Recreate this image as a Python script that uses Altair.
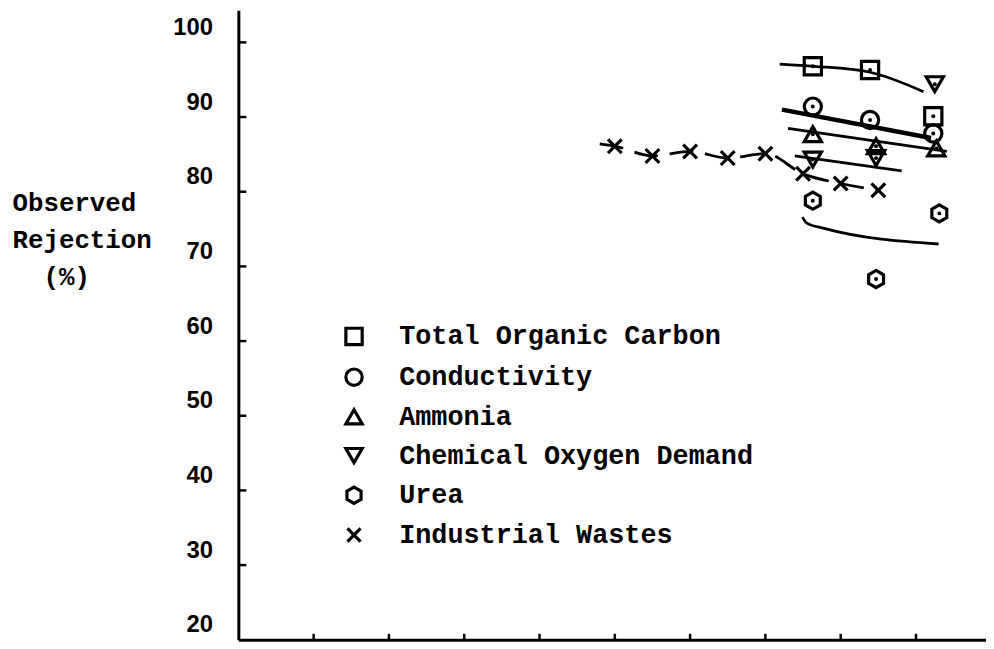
import altair as alt
import pandas as pd

# ---- data ----
series = ["Total Organic Carbon", "Conductivity", "Ammonia",
          "Chemical Oxygen Demand", "Urea", "Industrial Wastes"]

toc_x = [7.63, 8.39, 9.23]
toc_y = [96.8, 96.3, 90.1]
cond_x = [7.63, 8.39, 9.23]
cond_y = [91.4, 89.6, 87.8]
amm_x = [7.63, 8.47, 9.27]
amm_y = [87.7, 86.1, 85.8]
cod_x = [7.63, 8.47, 9.25]
cod_y = [84.3, 84.5, 94.4]
urea_x = [7.63, 9.31, 8.47]
urea_y = [78.8, 77.1, 68.3]
ind_x = [5.0, 5.5, 6.0, 6.5, 7.0, 7.5, 8.0, 8.5]
ind_y = [86.1, 84.8, 85.4, 84.5, 85.1, 82.4, 81.1, 80.2]

# fitted curves
toc_cx = [7.19, 7.65, 8.39, 9.10]
toc_cy = [97.1, 96.8, 96.0, 93.4]
cond_cx = [7.22, 9.20]
cond_cy = [91.0, 87.2]
amm_cx = [7.30, 9.41]
amm_cy = [88.5, 85.4]
cod_cx = [7.39, 8.81]
cod_cy = [84.8, 82.8]
urea_cx = [7.49, 7.55, 7.78, 9.30]
urea_cy = [76.6, 75.8, 75.1, 73.0]
ind_cx = [4.8] + ind_x
ind_cy = [86.4] + ind_y

y_ticks = [20, 30, 40, 50, 60, 70, 80, 90, 100]
y_tick_marks = [30, 40, 50, 60, 70, 80, 90, 100]
x_tick_marks = [1, 2, 3, 4, 5, 6, 7, 8, 9]

# ---- tables ----
pts_x = [toc_x, cond_x, amm_x, cod_x, urea_x, ind_x]
pts_y = [toc_y, cond_y, amm_y, cod_y, urea_y, ind_y]
rows = []
for s, xs, ys in zip(series, pts_x, pts_y):
    for a, b in zip(xs, ys):
        rows.append({"series": s, "x": a, "y": b})
pts = pd.DataFrame(rows)

cur_x = [toc_cx, cond_cx, amm_cx, cod_cx, urea_cx, ind_cx]
cur_y = [toc_cy, cond_cy, amm_cy, cod_cy, urea_cy, ind_cy]
crow = []
for s, xs, ys in zip(series, cur_x, cur_y):
    for i, (a, b) in enumerate(zip(xs, ys)):
        crow.append({"curve": s, "x": a, "y": b, "seq": i})
cur = pd.DataFrame(crow)

ytk = pd.DataFrame({"y": y_tick_marks})
xtk = pd.DataFrame({"x": x_tick_marks})

hexagon = "M0,-1L0.866,-0.5L0.866,0.5L0,1L-0.866,0.5L-0.866,-0.5Z"
xmark = "M-0.8,-0.8L0.8,0.8M0.8,-0.8L-0.8,0.8"
shapes = ["square", "circle", "triangle-up", "triangle-down", hexagon, xmark]

W, H = 753, 634
XS = alt.Scale(domain=[0, 9.93], nice=False, zero=False)
YS = alt.Scale(domain=[20, 104.3], nice=False, zero=False)

x_axis = alt.Axis(labels=False, ticks=False, title=None, grid=False,
                  domainColor="black", domainWidth=3)
y_axis = alt.Axis(values=y_ticks, ticks=False, tickSize=0, grid=False,
                  labelFont="Liberation Sans", labelFontSize=24,
                  labelFontWeight="bold",
                  labelColor="black", labelPadding=26, labelOffset=-15,
                  domainColor="black", domainWidth=3,
                  title=["Observed", "Rejection", "\u200b\u00a0\u00a0(%)"],
                  titleFont="Liberation Mono", titleFontSize=26,
                  titleFontWeight="bold", titleColor="black",
                  titleAngle=0, titleAlign="left", titleBaseline="middle",
                  titleX=-228, titleY=194, titleLineHeight=37)


def X():
    return alt.X("x:Q", scale=XS, axis=x_axis)


def Y():
    return alt.Y("y:Q", scale=YS, axis=y_axis)


def curve_layer(names, **style):
    return alt.Chart(cur).transform_filter(
        alt.FieldOneOfPredicate(field="curve", oneOf=names)
    ).mark_line(color="black", interpolate="monotone", **style).encode(
        x=X(), y=Y(), detail="curve:N", order="seq:Q")


solid = curve_layer([series[0], series[2], series[3], series[4]], strokeWidth=2.8)
thick = curve_layer([series[1]], strokeWidth=4.5)
dashed = curve_layer([series[5]], strokeWidth=2.8, strokeDash=[24, 12])

points = alt.Chart(pts).mark_point(filled=False, color="black",
                                   strokeWidth=3.2, size=300, opacity=1).encode(
    x=X(), y=Y(),
    shape=alt.Shape("series:N", scale=alt.Scale(domain=series, range=shapes),
                    legend=alt.Legend(title=None, orient="none",
                                      legendX=103, legendY=315,
                                      labelFont="Liberation Mono",
                                      labelFontSize=27, labelFontWeight="bold",
                                      labelColor="black", labelOffset=32,
                                      labelLimit=500, rowPadding=10,
                                      symbolSize=270, symbolStrokeWidth=3.2,
                                      symbolStrokeColor="black")),
)

dots = alt.Chart(pts).transform_filter(
    alt.datum.series != "Industrial Wastes"
).mark_circle(size=16, color="black", opacity=1).encode(x=X(), y=Y())

ytick_rules = alt.Chart(ytk).mark_rule(color="black", strokeWidth=2.5).encode(
    y=Y(), x=alt.value(0), x2=alt.value(8))
xtick_rules = alt.Chart(xtk).mark_rule(color="black", strokeWidth=2.5).encode(
    x=X(), y=alt.value(H), y2=alt.value(H - 6))

chart = alt.layer(solid, thick, dashed, points, dots, ytick_rules,
                  xtick_rules).properties(
    width=W, height=H,
    autosize=alt.AutoSizeParams(type="none"),
    padding={"left": 232, "top": 0, "right": 0, "bottom": 4},
    background="white",
).configure_view(stroke=None)

chart.save("out.html", embed_options={"renderer": "svg", "actions": False})
